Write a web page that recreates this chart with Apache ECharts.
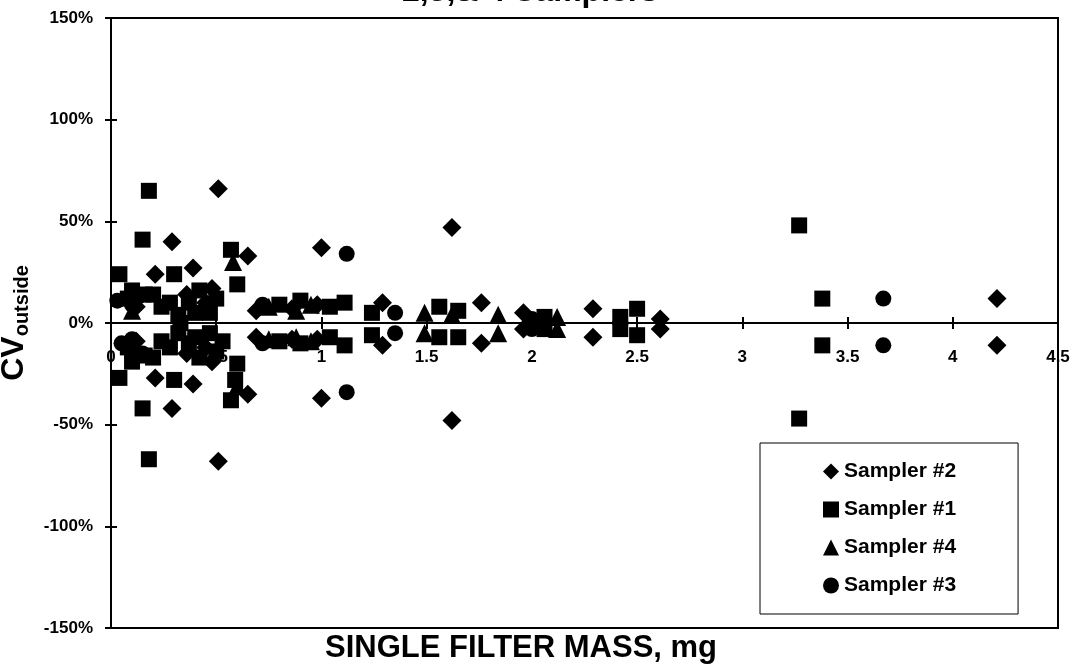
<!DOCTYPE html>
<html>
<head>
<meta charset="utf-8">
<title>CV outside vs single filter mass</title>
<script src="https://cdn.jsdelivr.net/npm/echarts@6/dist/echarts.min.js"></script>
<style>
  html, body { margin: 0; padding: 0; background: #fff; }
  #chart { width: 1075px; height: 664px; }
</style>
</head>
<body>
<div id="chart"></div>
<script>
// values: [filter mass mg, CV %]
var sampler2 = [
  [0.21, 24], [0.21, -27], [0.29, 40], [0.29, -42], [0.39, 27], [0.39, -30],
  [0.51, 66], [0.51, -68], [0.65, 33], [0.65, -35], [0.12, 8], [0.12, -9],
  [0.36, 14], [0.36, -15], [0.45, 10], [0.45, -12], [0.48, 17], [0.48, -19],
  [0.69, 6], [0.69, -7],
  [0.86, 7], [0.86, -8], [0.98, 9], [0.98, -8], [1.0, 37], [1.0, -37],
  [1.29, 10], [1.29, -11], [1.62, 47], [1.62, -48], [1.76, 10], [1.76, -10],
  [1.96, 5], [1.96, -3], [2.29, 7], [2.29, -7], [2.61, 2], [2.61, -3],
  [4.21, 12], [4.21, -11]
];
var sampler1 = [
  [0.04, 24], [0.04, -27], [0.15, 41], [0.15, -42], [0.18, 65], [0.18, -67],
  [0.30, 24], [0.30, -28], [0.57, 36], [0.57, -38], [0.6, 19], [0.6, -20],
  [0.59, -28], [0.08, 12], [0.08, -12], [0.16, 14], [0.16, -16], [0.24, 8],
  [0.24, -9], [0.32, 4], [0.32, -5], [0.37, 10], [0.37, -10], [0.42, 16],
  [0.42, -17], [0.47, 5], [0.47, -5], [0.1, 16], [0.1, -19], [0.2, 14],
  [0.2, -17], [0.28, 10], [0.28, -12], [0.33, 0], [0.4, 5], [0.4, -7],
  [0.5, 12], [0.5, -14], [0.53, -9],
  [0.8, 9], [0.8, -9], [0.9, 11],
  [0.9, -10], [1.04, 8], [1.04, -7], [1.11, 10], [1.11, -11], [1.24, 5],
  [1.24, -6], [1.56, 8], [1.56, -7], [1.65, 6], [1.65, -7], [2.06, 3],
  [2.06, -3], [2.42, 3], [2.42, -3], [2.5, 7], [2.5, -6], [3.27, 48],
  [3.27, -47], [3.38, 12], [3.38, -11]
];
var sampler4 = [
  [0.1, 6], [0.12, -14], [0.58, 30], [0.6, -31], [0.75, 8], [0.75, -8],
  [0.88, 6], [0.88, -7], [0.95, 9], [0.95, -9], [1.49, 5], [1.49, -5],
  [1.62, 4], [1.84, 4], [1.84, -5], [2.12, 3], [2.12, -3]
];
var sampler3 = [
  [0.03, 11], [0.05, -10], [0.1, 9], [0.1, -8], [0.13, 13], [0.15, -15],
  [0.72, 9], [0.72, -10], [1.12, 34], [1.12, -34], [1.35, 5], [1.35, -5],
  [2.0, 2], [2.0, -3], [3.67, 12], [3.67, -11]
];
var legendNames = ['Sampler #2', 'Sampler #1', 'Sampler #4', 'Sampler #3'];

var font = '"Liberation Sans", Arial, sans-serif';
var chart = echarts.init(document.getElementById('chart'));

var gridTop = 18, gridBottom = 36;
// the x axis sits on the 0% line, half way up the plot
var zeroOffset = -(664 - gridTop - gridBottom) / 2;

function scatter(name, data, symbol, size) {
  return {
    name: name,
    type: 'scatter',
    data: data,
    symbol: symbol,
    symbolSize: size,
    itemStyle: { color: '#000', opacity: 1 },
    clip: false
  };
}

var tickStyle = { color: '#000', width: 2 };

function xAxisOf(inside) {
  return {
    type: 'value',
    position: 'bottom',
    offset: zeroOffset,
    min: 0,
    max: 4.5,
    interval: 0.5,
    axisLine: { onZero: false, lineStyle: { color: '#000', width: 2 } },
    axisTick: { show: true, inside: inside, length: 6, lineStyle: tickStyle },
    axisLabel: inside ? { show: false } : { margin: 26, fontFamily: font, fontWeight: 'bold', fontSize: 17, color: '#000' },
    splitLine: { show: false }
  };
}
function yAxisOf(inside) {
  return {
    type: 'value',
    position: 'left',
    min: -150,
    max: 150,
    interval: 50,
    axisLine: { show: true, onZero: false, lineStyle: { color: '#000', width: 2 } },
    axisTick: { show: true, inside: inside, length: 6, lineStyle: tickStyle },
    axisLabel: inside ? { show: false } : { margin: 18, formatter: '{value}%', fontFamily: font, fontWeight: 'bold', fontSize: 17, color: '#000' },
    splitLine: { show: false }
  };
}

var yMain = yAxisOf(false);
yMain.name = '{a|CV}{b|outside}';
yMain.nameLocation = 'middle';
yMain.nameGap = 58;
yMain.nameTextStyle = {
  rich: {
    a: { fontFamily: font, fontWeight: 'bold', fontSize: 32, color: '#000', lineHeight: 38, verticalAlign: 'middle' },
    b: { fontFamily: font, fontWeight: 'bold', fontSize: 20, color: '#000', lineHeight: 38, verticalAlign: 'bottom' }
  }
};

chart.setOption({
  backgroundColor: '#fff',
  animation: false,
  grid: {
    left: 111,
    right: 17,
    top: gridTop,
    bottom: gridBottom,
    outerBoundsMode: 'none',
    containLabel: false,
    show: true,
    borderColor: '#000',
    borderWidth: 2
  },
  graphic: [
    {
      type: 'text',
      x: 530,
      y: 8,
      style: {
        text: '2,3,& 4 Samplers',
        font: 'bold 32px ' + font,
        fill: '#000',
        align: 'center',
        verticalAlign: 'bottom'
      }
    },
    {
      type: 'text',
      x: 521,
      y: 648,
      style: {
        text: 'SINGLE FILTER MASS, mg',
        font: 'bold 31px ' + font,
        fill: '#000',
        align: 'center',
        verticalAlign: 'middle'
      }
    }
  ],
  legend: {
    data: legendNames,
    orient: 'vertical',
    left: 760,
    top: 443,
    padding: [18, 62, 18, 63],
    itemGap: 17,
    itemWidth: 16,
    itemHeight: 16,
    backgroundColor: '#fff',
    borderColor: '#000',
    borderWidth: 1,
    textStyle: { fontFamily: font, fontWeight: 'bold', fontSize: 21, color: '#000' }
  },
  xAxis: [xAxisOf(false), xAxisOf(true)],
  yAxis: [yMain, yAxisOf(true)],
  series: [
    scatter(legendNames[0], sampler2, 'diamond', 19),
    scatter(legendNames[1], sampler1, 'rect', 16),
    scatter(legendNames[2], sampler4, 'triangle', 18),
    scatter(legendNames[3], sampler3, 'circle', 16)
  ]
});
</script>
</body>
</html>
